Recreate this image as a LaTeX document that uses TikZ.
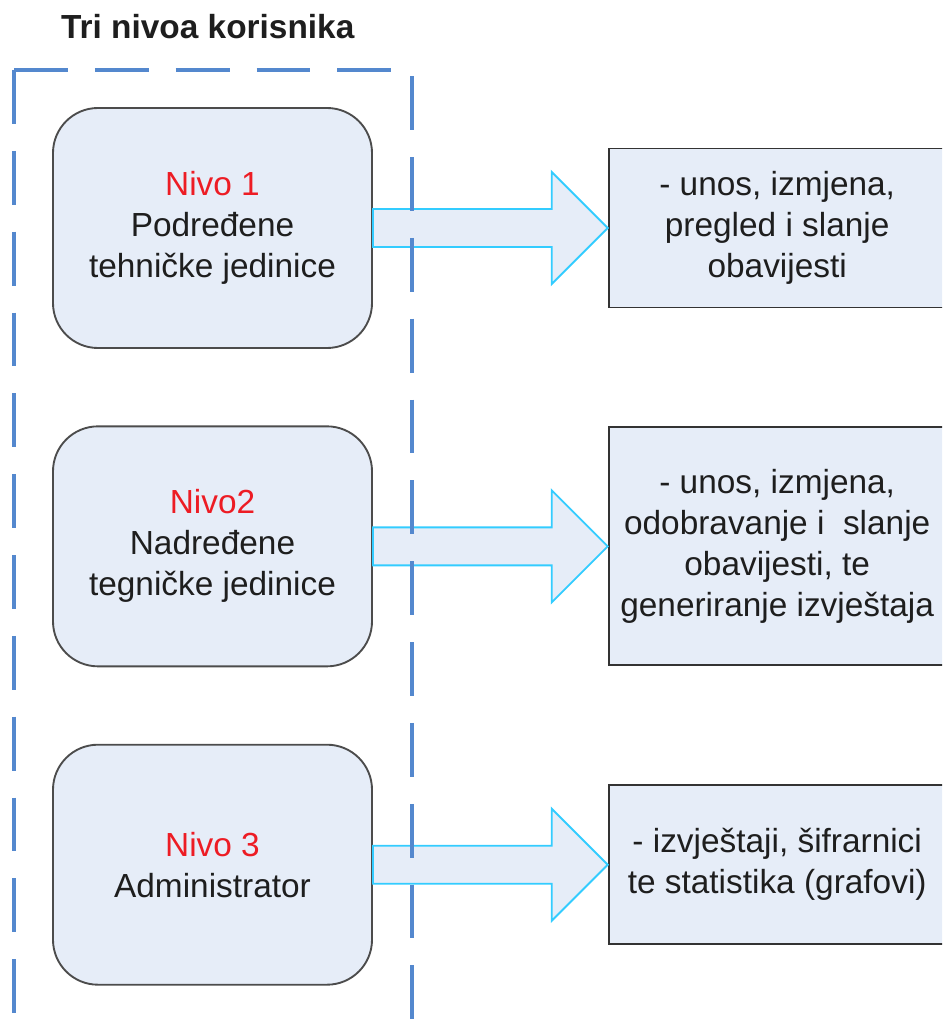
\documentclass[tikz,border=0pt]{standalone}
\usepackage{fontspec}
\setmainfont{Liberation Sans}
\usetikzlibrary{calc}
\definecolor{boxfill}{RGB}{230,237,248}
\definecolor{arrowline}{RGB}{51,204,255}
\definecolor{framecol}{RGB}{84,136,206}
\definecolor{nivored}{RGB}{237,28,36}
\definecolor{textgray}{RGB}{30,30,30}
\begin{document}
\begin{tikzpicture}[x=0.03cm, y=-0.03cm, node distance=9.55cm,
level/.style = {draw=black!70, line width=1.6pt, fill=boxfill, rounded corners=1.35cm, minimum width=9.57cm, minimum height=7.2cm, align=center, text=textgray, font=\fontsize{28.5}{35}\selectfont},
action/.style = {draw=black!80, line width=1.6pt, fill=boxfill, minimum width=10.11cm, align=center, text=textgray, font=\fontsize{28.5}{35}\selectfont, node distance=16.94cm},
blockarrow/.style = {draw=arrowline, line width=1.6pt, fill=boxfill},
frame/.style = {draw=framecol, line width=2.6pt, dash pattern=on 46pt off 23pt}]
    \useasboundingbox (0,0) rectangle (942,1020);
    \clip (0,0) rectangle (942,1020);

    \node[anchor=base west, font=\bfseries\fontsize{28.5}{35}\selectfont, text=textgray] (naslov) at (57,38.5) {Tri nivoa korisnika};

    \node[level] (nivo1) at (212.5,228) {\textcolor{nivored}{Nivo 1}\\Podređene\\tehničke jedinice};
    \node[level] (nivo2) [below of=nivo1] {\textcolor{nivored}{Nivo2}\\Nadređene\\tegničke jedinice};
    \node[level] (nivo3) [below of=nivo2] {\textcolor{nivored}{Nivo 3}\\Administrator};

    \node[action, minimum height=4.77cm] (opis1) [right of=nivo1] {- unos, izmjena,\\pregled i slanje\\obavijesti};
    \node[action, minimum height=7.14cm] (opis2) [right of=nivo2] {- unos, izmjena,\\odobravanje i~~slanje\\obavijesti, te\\generiranje izvještaja};
    \node[action, minimum height=4.77cm] (opis3) [right of=nivo3] {- izvještaji, šifrarnici\\te statistika (grafovi)};

    % block arrows from each level to its tasks
    \foreach \i in {1,2,3}
        \draw[blockarrow] ($(nivo\i.east)+(0,-19)$) -- ($(opis\i.west)+(-56,-19)$) -- ($(opis\i.west)+(-56,-56)$) -- (opis\i.west) -- ($(opis\i.west)+(-56,56)$) -- ($(opis\i.west)+(-56,19)$) -- ($(nivo\i.east)+(0,19)$) -- cycle;

    % dashed frame, open at the bottom
    \coordinate (ugao) at (14,70);
    \draw[frame] (ugao) -- (14,1030);
    \draw[frame] (ugao) -- (412,70) -- (412,1030);
\end{tikzpicture}
\end{document}
